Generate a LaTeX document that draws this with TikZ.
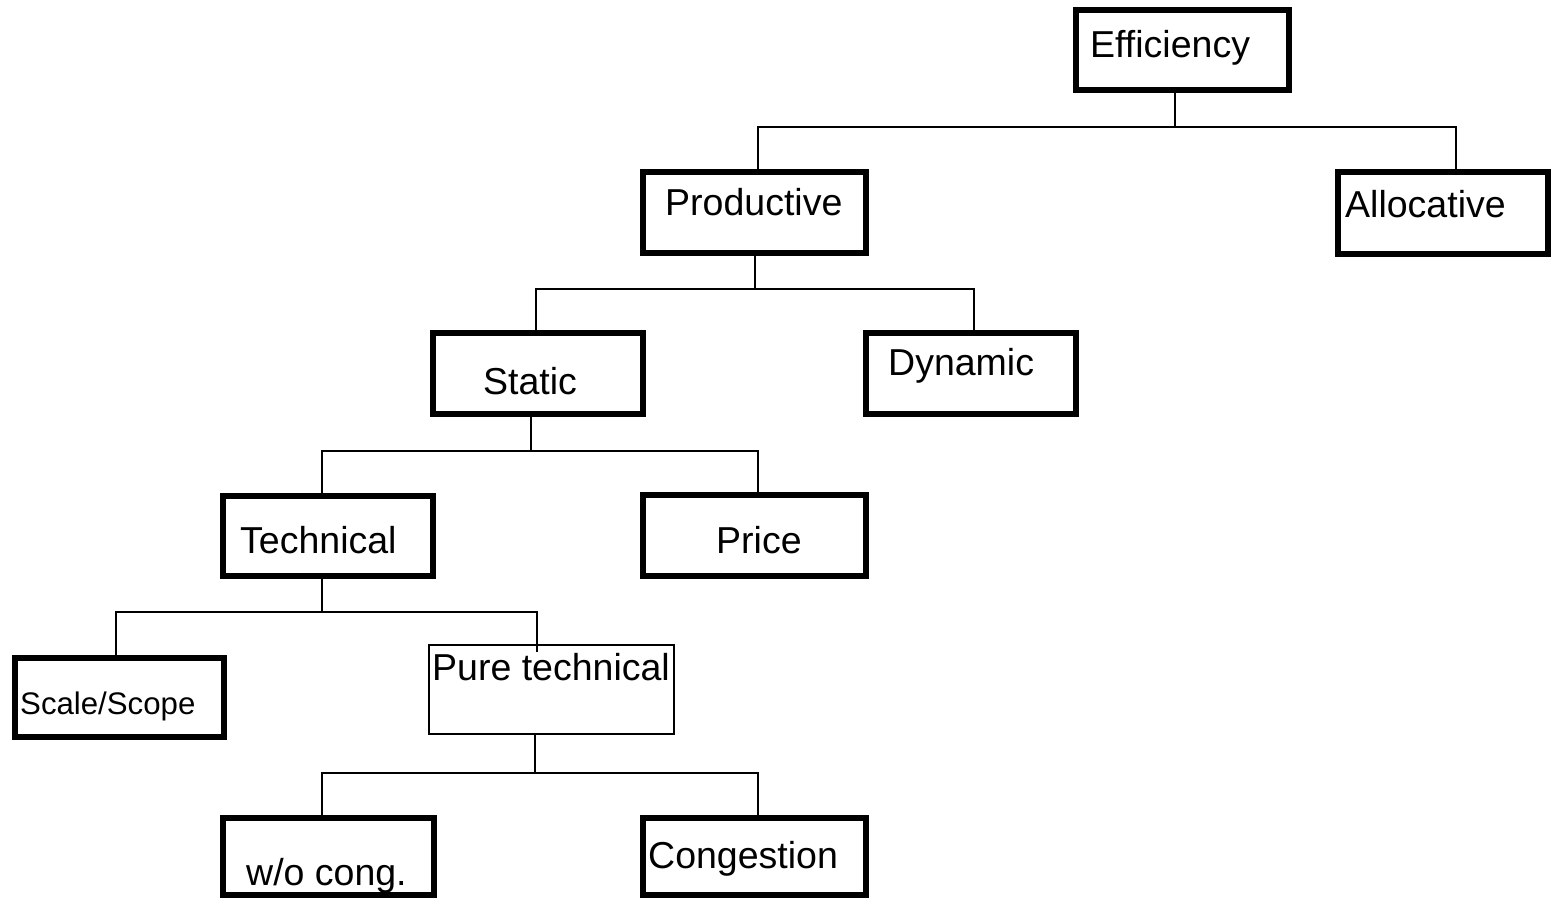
\documentclass[tikz,border=0pt]{standalone}
\usepackage{fontspec}
\setmainfont{Liberation Sans}
\begin{document}
\begin{tikzpicture}[x=1pt,y=-1pt,
  box/.style={draw, line width=6pt, inner sep=0pt, minimum width=#1},
  box/.default=210pt,
  thinbox/.style={draw, line width=2pt, inner sep=0pt},
  lbl/.style={inner sep=0pt, anchor=base west, font=\fontsize{37.5}{41}\selectfont},
  smalllbl/.style={inner sep=0pt, anchor=base west, font=\fontsize{31.2}{35}\selectfont},
  conn/.style={line width=2pt}]
\useasboundingbox (0,0) rectangle (1554,899);

% boxes
\node[box=213pt, minimum height=80pt] (eff) at (1182.5,50) {};
\node[box=223pt, minimum height=81pt] (prod) at (754.5,212.5) {};
\node[box=210pt, minimum height=82pt] (alloc) at (1443,213) {};
\node[box=210pt, minimum height=81pt] (stat) at (538,373.5) {};
\node[box=210pt, minimum height=81pt] (dyn) at (971,373.5) {};
\node[box=210pt, minimum height=80pt] (tech) at (328,536) {};
\node[box=223pt, minimum height=81pt] (price) at (754.5,535.5) {};
\node[box=209pt, minimum height=79pt] (scale) at (119.5,697.5) {};
\node[thinbox, minimum width=245pt, minimum height=89pt] (pure) at (551.5,689.5) {};
\node[box=211pt, minimum height=77pt] (wo) at (328.5,856.5) {};
\node[box=223pt, minimum height=77pt] (cong) at (754.5,856.5) {};

% labels
\node[lbl] (eff-t) at (1090,57) {Efficiency};
\node[lbl] (prod-t) at (665,215) {Productive};
\node[lbl] (alloc-t) at (1345,217) {Allocative};
\node[lbl] (stat-t) at (483,394) {Static};
\node[lbl] (dyn-t) at (888,375) {Dynamic};
\node[lbl] (tech-t) at (240,553) {Technical};
\node[lbl] (price-t) at (716,553) {Price};
\node[smalllbl] (scale-t) at (20,714) {Scale/Scope};
\node[lbl] (pure-t) at (432,680) {Pure technical};
\node[lbl] (wo-t) at (246,885) {w/o cong.};
\node[lbl] (cong-t) at (648,868) {Congestion};

% junction points of the tree
\coordinate (j1) at (1175,127);
\coordinate (j2) at (755,289);
\coordinate (j3) at (531,451);
\coordinate (j4) at (322,612);
\coordinate (j5) at (535,773);

% connectors
\draw[conn] ([xshift=-7.5pt]eff.south) -- (j1);
\draw[conn] ([xshift=3.5pt]prod.north) |- (j1) -| ([xshift=13pt]alloc.north);

\draw[conn] ([xshift=0.5pt]prod.south) -- (j2);
\draw[conn] ([xshift=-2pt]stat.north) |- (j2) -| ([xshift=3pt]dyn.north);

\draw[conn] ([xshift=-7pt]stat.south) -- (j3);
\draw[conn] ([xshift=-6pt]tech.north) |- (j3) -| ([xshift=3.5pt]price.north);

\draw[conn] ([xshift=-6pt]tech.south) -- (j4);
\draw[conn] ([xshift=-3.5pt]scale.north) |- (j4) -| ([xshift=-14.5pt,yshift=-8pt]pure.north);

\draw[conn] ([xshift=-16.5pt]pure.south) -- (j5);
\draw[conn] ([xshift=-6.5pt]wo.north) |- (j5) -| ([xshift=3.5pt]cong.north);
\end{tikzpicture}
\end{document}
